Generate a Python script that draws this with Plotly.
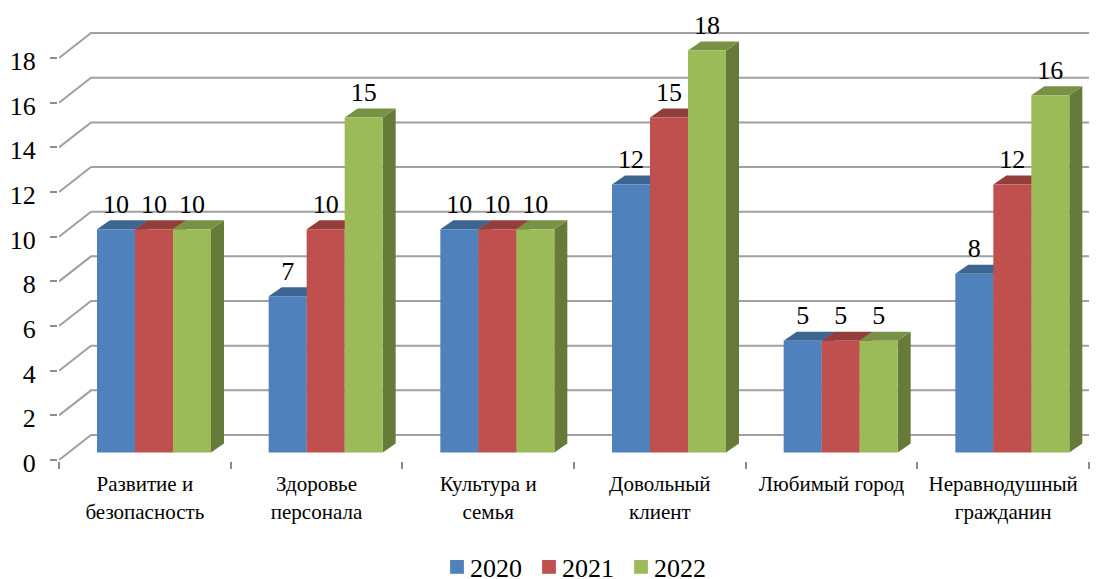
import plotly.graph_objects as go

categories = ["Развитие и<br>безопасность", "Здоровье<br>персонала", "Культура и<br>семья",
              "Довольный<br>клиент", "Любимый город", "Неравнодушный<br>гражданин"]
years = ["2020", "2021", "2022"]
v2020 = [10, 7, 10, 12, 5, 8]
v2021 = [10, 10, 10, 15, 5, 12]
v2022 = [10, 15, 10, 18, 5, 16]
y_ticks = [0, 2, 4, 6, 8, 10, 12, 14, 16, 18]

series = [v2020, v2021, v2022]
front = ["#4F81BD", "#C0504D", "#9BBB59"]
top = ["#3D6592", "#943E3B", "#789145"]
side = ["#385D8A", "#772C2A", "#667A3A"]

W, H = 1112, 579
ML, MR, MT, MB = 59, 23, 0, 119
xu = (W - ML - MR) / 6
yu = 22.33
ymax = (H - MT - MB) / yu

FONT = "Liberation Serif, Times New Roman, serif"
wall_dx, wall_dy = 32 / xu, 25 / yu
bar_w = 38 / xu
bar_x0 = 38 / xu
base = 7.5 / yu
dep_x, dep_y = 13 / xu, 9 / yu
label_lift = 23 / yu

fig = go.Figure()

# back wall grid lines with their diagonals, including the floor edge
for v in y_ticks:
    fig.add_trace(go.Scatter(
        x=[0, wall_dx, 6 + wall_dx], y=[v, v + wall_dy, v + wall_dy],
        mode="lines", line=dict(color="#A0A0A0", width=2), cliponaxis=False,
        showlegend=False, hoverinfo="skip", zorder=0))
fig.add_trace(go.Scatter(
    x=[6, 6 + wall_dx], y=[0, wall_dy], mode="lines",
    line=dict(color="#A0A0A0", width=2), cliponaxis=False,
    showlegend=False, hoverinfo="skip", zorder=0))

for s, vals in enumerate(series):
    z = 1 + 2 * s
    for i, v in enumerate(vals):
        xl = i + bar_x0 + s * bar_w
        xr = xl + bar_w
        yt = base + v
        # side face
        fig.add_trace(go.Scatter(
            x=[xr, xr + dep_x, xr + dep_x, xr, xr],
            y=[base, base + dep_y, yt + dep_y, yt, base],
            mode="lines", fill="toself", fillcolor=side[s], line=dict(width=0),
            showlegend=False, hoverinfo="skip", zorder=z))
        # top face
        fig.add_trace(go.Scatter(
            x=[xl, xl + dep_x, xr + dep_x, xr, xl],
            y=[yt, yt + dep_y, yt + dep_y, yt, yt],
            mode="lines", fill="toself", fillcolor=top[s], line=dict(width=0),
            showlegend=False, hoverinfo="skip", zorder=z))
    fig.add_trace(go.Bar(
        x=[i + bar_x0 + (s + 0.5) * bar_w for i in range(6)], y=vals,
        base=[base] * 6, width=bar_w, name=years[s],
        marker=dict(color=front[s], line=dict(width=0)), zorder=z + 1))
    fig.add_trace(go.Scatter(
        x=[i + bar_x0 + (s + 0.5) * bar_w for i in range(6)],
        y=[base + v + label_lift for v in vals],
        text=[str(v) for v in vals], mode="text", textposition="middle center",
        textfont=dict(family=FONT, size=26, color="#000000"), cliponaxis=False,
        showlegend=False, hoverinfo="skip", zorder=20))

fig.update_layout(
    width=W, height=H, margin=dict(l=ML, r=MR, t=MT, b=MB, pad=0),
    paper_bgcolor="white", plot_bgcolor="white", barmode="overlay",
    font=dict(family=FONT, color="#000000"),
    xaxis=dict(
        range=[0, 6], tickmode="array", tickvals=[i + 0.5 for i in range(6)],
        ticktext=categories, ticks="", ticklen=0, showgrid=False, zeroline=False,
        showline=True, linecolor="#A0A0A0", linewidth=2, ticklabelstandoff=4,
        tickfont=dict(family=FONT, size=21, color="#000000"), tickangle=0,
        minor=dict(tickmode="array", tickvals=list(range(7)), ticks="outside",
                   ticklen=7, tickcolor="#8C8C8C", tickwidth=2, showgrid=False)),
    yaxis=dict(
        range=[0, ymax], tickmode="array", tickvals=y_ticks, ticks="outside",
        ticklen=7, tickcolor="#8C8C8C", tickwidth=2, showgrid=False, zeroline=False,
        showline=True, linecolor="#8C8C8C", linewidth=2, ticklabelstandoff=9,
        ticklabelshift=3,
        tickfont=dict(family=FONT, size=26, color="#000000")),
    legend=dict(orientation="h", xref="container", yref="container", x=430 / W,
                xanchor="left", y=1 - 567 / H, yanchor="middle",
                font=dict(family=FONT, size=26),
                traceorder="normal", bgcolor="rgba(0,0,0,0)"),
)

post = """
document.body.style.margin = '0';
document.querySelectorAll('.legend .traces').forEach(function (t, i) {
  var m = /translate\\(([^,]+),\\s*([^)]+)\\)/.exec(t.getAttribute('transform'));
  t.setAttribute('transform', 'translate(' + (i * 92) + ',' + m[2] + ')');
});
document.querySelectorAll('.legend .legendsymbols').forEach(function (g) {
  g.setAttribute('transform', 'translate(4,0) scale(1.15)');
});
document.querySelectorAll('.legend .scrollbox').forEach(function (g) {
  g.removeAttribute('clip-path');
  g.style.clipPath = 'none';
});
document.querySelectorAll('.legend').forEach(function (g) {
  g.removeAttribute('clip-path');
  g.style.overflow = 'visible';
});
"""
fig.write_html("out.html", post_script=post, config={"displayModeBar": False})
